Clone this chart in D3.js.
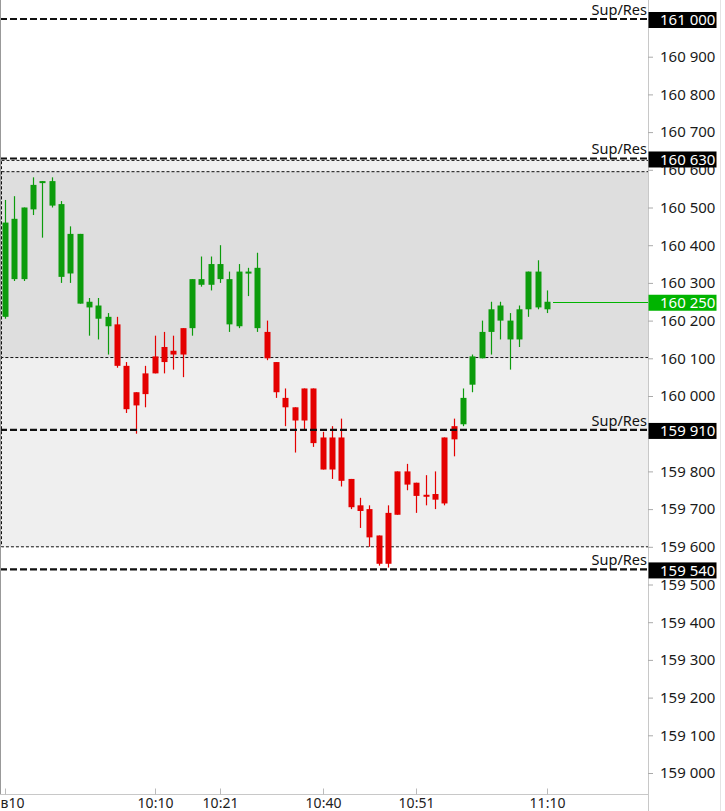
<!DOCTYPE html>
<html>
<head>
<meta charset="utf-8">
<script src="https://cdn.jsdelivr.net/npm/d3@7"></script>
<style>
  html, body { margin: 0; padding: 0; background: #fff; }
  svg { display: block; font-family: "Noto Sans", "Open Sans", sans-serif; }
</style>
</head>
<body>
<svg id="chart" width="725" height="811"></svg>
<script>
// ---- data ----
const opens  = [160210,160310,160310,160495,160565,160505,160316,160325,160245,160235,160205,160185,160190,160080,160010,160060,160105,160130,160120,160180,
                160180,160295,160295,160310,160190,160185,160328,160180,160170,160090,159995,159970,160020,160020,159890,159890,159890,159780,159710,159700,
                159630,159690,159800,159800,159770,159738,159740,159890,159920,159925,160030,160100,160170,160200,160150,160150,160230,160235,160230];
const highs  = [160520,160530,160500,160580,160570,160580,160517,160450,160430,160260,160260,160220,160210,160090,160010,160080,160160,160170,160160,160180,
                160310,160370,160370,160400,160330,160350,160340,160380,160200,160090,160020,159970,160020,160020,159905,159920,159940,159780,159730,159710,
                159630,159710,159800,159820,159770,159790,159800,159890,159940,160020,160110,160200,160250,160250,160220,160240,160330,160360,160280];
const lows   = [160205,160305,160305,160480,160420,160500,160300,160300,160245,160160,160150,160110,160075,159955,159900,159970,160060,160060,160070,160050,
                160160,160290,160280,160300,160170,160180,160265,160170,160095,159995,159920,159850,159910,159865,159805,159780,159760,159700,159650,159600,
                159550,159545,159685,159750,159690,159710,159700,159710,159840,159920,160010,160100,160110,160150,160070,160130,160210,160230,160220];
const closes = [160460,160470,160500,160560,160570,160570,160509,160430,160430,160250,160240,160210,160080,159965,159975,160005,160060,160090,160110,160110,
                160310,160310,160350,160350,160310,160330,160330,160340,160100,160010,159970,159935,159935,159875,159805,159805,159775,159705,159695,159625,
                159555,159555,159685,159765,159735,159735,159725,159715,159885,159995,160105,160170,160230,160240,160200,160230,160330,160330,160250];
const colors = ["g","g","g","g","g","g","g","g","g","g","g","g","r","r","r","r","r","r","r","r",
                "g","g","g","g","g","g","g","g","r","r","r","r","r","r","r","r","r","r","r","r",
                "r","r","r","r","r","r","r","r","r","g","g","g","g","g","g","g","g","g","g"];
const timeTickIndex  = [0, 16, 23, 34, 44, 58];
const timeTickLabels = ["в10", "10:10", "10:21", "10:40", "10:51", "11:10"];
const priceTicks = d3.range(159000, 161001, 100);
const supRes = [161000, 160630, 159910, 159540];
const outerZone = [159600, 160625];
const innerZone = [160102, 160595];
const lastPrice = 160250;

// ---- layout ----
const W = 725, H = 811;
const plotRight = 648;
const axisBottom = 794.5;
const svg = d3.select("#chart");

const y = d3.scaleLinear().domain([159000, 161000]).range([773, 19]);
const x = d3.scaleLinear().domain([0, opens.length - 1]).range([5, 547]);
const fmt = v => d3.format(",")(v).replace(/,/g, " ");

const GREEN = "#0c9c0c", RED = "#e40000", LBLGREEN = "#00b400";

svg.append("defs").append("clipPath").attr("id", "plotclip")
  .append("rect").attr("x", 0).attr("y", 0).attr("width", plotRight).attr("height", axisBottom);

const plot = svg.append("g").attr("clip-path", "url(#plotclip)");

// zones
plot.append("rect")
  .attr("x", 1.5).attr("y", y(outerZone[1]))
  .attr("width", plotRight + 10).attr("height", y(outerZone[0]) - y(outerZone[1]))
  .attr("fill", "#efefef").attr("stroke", "#111").attr("stroke-width", 1).attr("stroke-dasharray", "3,2");
plot.append("rect")
  .attr("x", 1.5).attr("y", y(innerZone[1]))
  .attr("width", plotRight + 10).attr("height", y(innerZone[0]) - y(innerZone[1]))
  .attr("fill", "#dedede").attr("stroke", "#111").attr("stroke-width", 1).attr("stroke-dasharray", "3,2");

// candles
const idx = d3.range(opens.length);
plot.append("g").selectAll("line").data(idx).join("line")
  .attr("x1", i => Math.round(x(i)) + 0.5).attr("x2", i => Math.round(x(i)) + 0.5)
  .attr("y1", i => y(highs[i])).attr("y2", i => y(lows[i]))
  .attr("stroke", i => colors[i] === "g" ? GREEN : RED).attr("stroke-width", 1.2);
plot.append("g").selectAll("rect").data(idx).join("rect")
  .attr("x", i => Math.round(x(i)) - 2.5).attr("width", 6)
  .attr("y", i => y(Math.max(opens[i], closes[i])))
  .attr("height", i => Math.max(2, Math.abs(y(opens[i]) - y(closes[i]))))
  .attr("fill", i => colors[i] === "g" ? GREEN : RED);

// last price line
plot.append("line")
  .attr("x1", x(opens.length - 1) + 6).attr("x2", plotRight)
  .attr("y1", Math.round(y(lastPrice)) + 0.5).attr("y2", Math.round(y(lastPrice)) + 0.5)
  .attr("stroke", LBLGREEN).attr("stroke-width", 1);

// sup/res lines
const sr = plot.append("g");
sr.selectAll("line").data(supRes).join("line")
  .attr("x1", 0).attr("x2", plotRight)
  .attr("y1", d => y(d)).attr("y2", d => y(d))
  .attr("stroke", "#111").attr("stroke-width", 2.2).attr("stroke-dasharray", "7,3");
sr.selectAll("text").data(supRes).join("text")
  .attr("x", plotRight - 1).attr("y", d => y(d) - 4)
  .attr("text-anchor", "end").attr("font-size", 14.5).attr("fill", "#111")
  .text("Sup/Res");

// left border
svg.append("line").attr("x1", 0.5).attr("x2", 0.5).attr("y1", 0).attr("y2", axisBottom)
  .attr("stroke", "#999");

// right axis
svg.append("line").attr("x1", plotRight + 0.5).attr("x2", plotRight + 0.5).attr("y1", 0).attr("y2", H)
  .attr("stroke", "#c8c8c8");
svg.append("line").attr("x1", 720.5).attr("x2", 720.5).attr("y1", 0).attr("y2", H)
  .attr("stroke", "#e4e4e4");
const ya = svg.append("g").attr("transform", `translate(${plotRight},0)`)
  .call(d3.axisRight(y).tickValues(priceTicks).tickSize(5).tickPadding(7).tickFormat(fmt));
ya.select(".domain").remove();
ya.selectAll(".tick line").attr("stroke", "#aaa");
ya.selectAll(".tick text").attr("font-size", 15).attr("fill", "#1a1a1a")
  .attr("font-family", "\"Noto Sans\", sans-serif");

// price label boxes
const boxes = supRes.map(v => ({v, bg: "#000"})).concat([{v: lastPrice, bg: LBLGREEN}]);
const bg = svg.append("g").selectAll("g").data(boxes).join("g")
  .attr("transform", d => `translate(${plotRight},${y(d.v) + 1})`);
bg.append("rect").attr("x", 0.5).attr("y", -8).attr("width", 68).attr("height", 16)
  .attr("fill", d => d.bg);
bg.append("text").attr("x", 12).attr("y", 0).attr("dy", "0.35em")
  .attr("font-size", 15).attr("fill", "#fff").text(d => fmt(d.v));

// bottom time axis
svg.append("line").attr("x1", 0).attr("x2", plotRight).attr("y1", axisBottom).attr("y2", axisBottom)
  .attr("stroke", "#c8c8c8");
const ta = svg.append("g").selectAll("g").data(timeTickIndex).join("g")
  .attr("transform", i => `translate(${Math.round(x(i)) + 0.5},0)`);
ta.append("line").attr("y1", axisBottom - 6).attr("y2", axisBottom).attr("stroke", "#bbb");
ta.append("text")
  .attr("x", (d, k) => k === 0 ? -5 : 0)
  .attr("y", 808)
  .attr("text-anchor", (d, k) => k === 0 ? "start" : "middle")
  .attr("font-size", 14).attr("fill", "#222")
  .text((d, k) => timeTickLabels[k]);
</script>
</body>
</html>
